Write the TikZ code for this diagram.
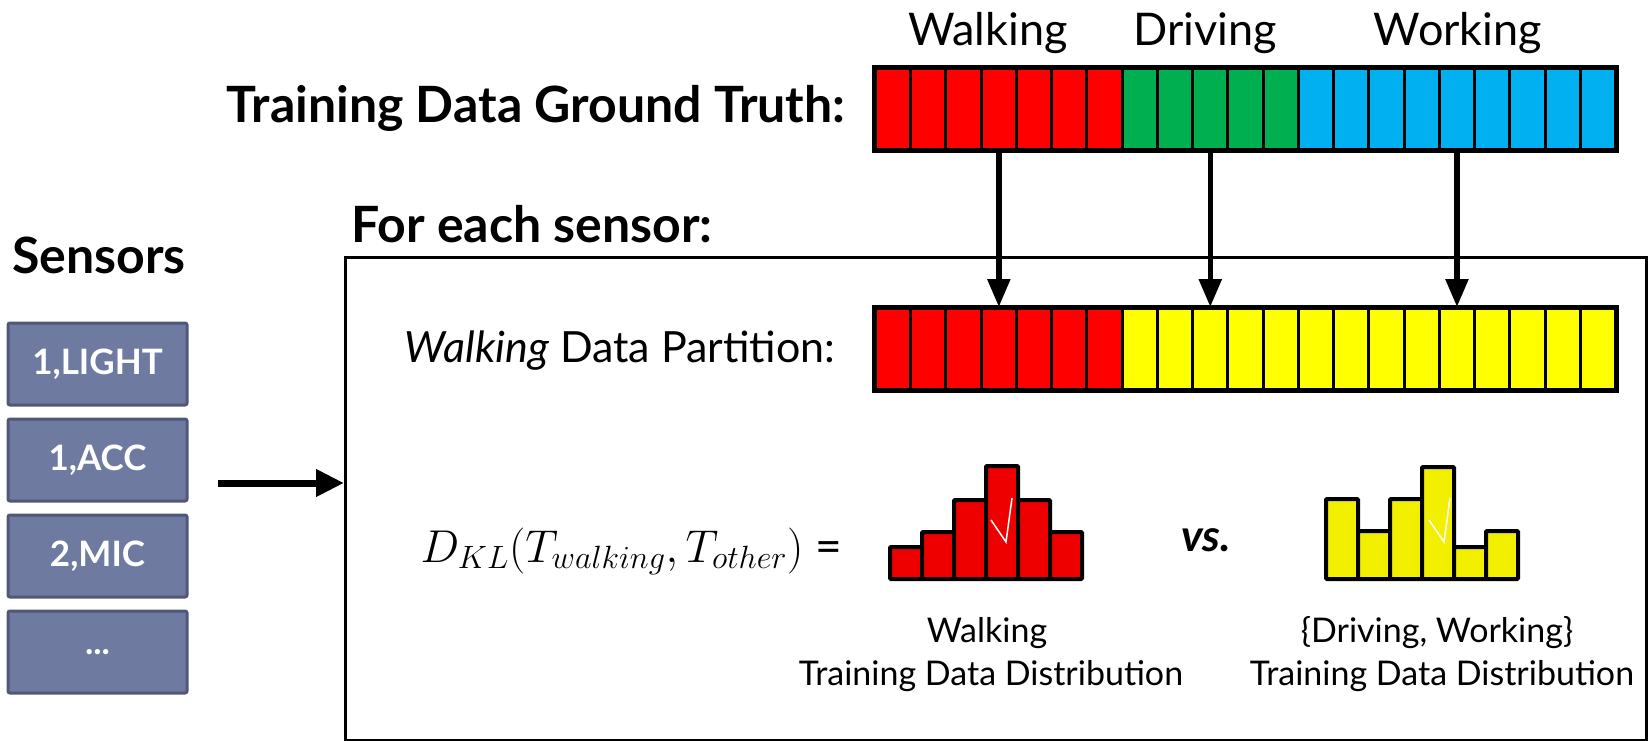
\RequirePackage{fix-cm}
\documentclass[tikz,border=0pt]{standalone}
\usepackage{fontspec}
\setmainfont{Lato}
\usetikzlibrary{arrows.meta,calc}
\definecolor{barred}{HTML}{FF0000}
\definecolor{bargreen}{HTML}{00B050}
\definecolor{barblue}{HTML}{00B0F0}
\definecolor{baryellow}{HTML}{FFFF00}
\definecolor{histred}{HTML}{EE0000}
\definecolor{histyellow}{HTML}{F2F000}
\definecolor{sensfill}{HTML}{6F7AA0}
\definecolor{sensdraw}{HTML}{4F5878}
\tikzset{
  cell/.style={draw=black,line width=3pt,minimum width=35.24pt,minimum height=81pt,inner sep=0pt,anchor=north west},
  sensorbox/.style={rectangle,rounded corners=2pt,fill=sensfill,draw=sensdraw,line width=3pt,
    minimum width=179pt,minimum height=82pt,text=white,font=\bfseries\fontsize{35}{38}\selectfont},
  flow/.style={line width=5.5pt,-{Triangle[length=28pt,width=22pt]}},
  histbar/.style={draw=black,line width=4pt,rounded corners=1pt},
  toplabel/.style={anchor=base,font=\fontsize{45}{50}\selectfont},
  headline/.style={font=\bfseries\fontsize{50}{55}\selectfont},
  caption/.style={anchor=base,font=\fontsize{34}{38}\selectfont},
  tick/.style={draw=white,line width=1.5pt}
}
\begin{document}
\begin{tikzpicture}[x=1pt,y=-1pt]
\useasboundingbox (0,0) rectangle (1651,740);

% activity labels above the ground-truth strip
\node[toplabel] (lwalk) at (988,45) {Walking};
\node[toplabel] (ldrive) at (1205,45) {Driving};
\node[toplabel] (lwork) at (1458,45) {Working};

\node[headline,anchor=east] (gt) at (849,108) {Training Data Ground Truth:};

% ground-truth strip: 7 walking, 5 driving, 9 working windows
\foreach \i in {1,...,21}{
  \pgfmathsetmacro{\xx}{874+(\i-1)*35.24}
  \ifnum\i<8 \def\cc{barred}\else\ifnum\i<13 \def\cc{bargreen}\else\def\cc{barblue}\fi\fi
  \node[cell,fill=\cc] (t\i) at (\xx,67) {};
}
\draw[line width=4pt] (t1.north west) rectangle (t21.south east);

% partition strip: walking vs. everything else
\foreach \i in {1,...,21}{
  \pgfmathsetmacro{\xx}{874+(\i-1)*35.24}
  \ifnum\i<8 \def\cc{barred}\else\def\cc{baryellow}\fi
  \node[cell,fill=\cc] (p\i) at (\xx,307) {};
}
\draw[line width=4pt] (p1.north west) rectangle (p21.south east);

\draw[flow] (t4.south) -- (p4.north);
\draw[flow] (t10.south) -- (p10.north);
\draw[flow] (t17.south) -- (p17.north);

% per-sensor frame
\node[headline,anchor=west] (each) at (348,224) {For each sensor:};
\node[draw=black,line width=3pt,minimum width=1301pt,minimum height=483pt,inner sep=0pt,anchor=north west] (frame) at (344,256) {};

% sensors
\node[headline] (sens) at (99,255) {Sensors};
\node[sensorbox] (s1) at (97.5,364) {1,LIGHT};
\node[sensorbox] (s2) at (97.5,460) {1,ACC};
\node[sensorbox] (s3) at (97.5,556) {2,MIC};
\node[sensorbox] (s4) at (97.5,652) {...};
\coordinate (sa) at (218,483);
\draw[flow,line width=7pt,-{Triangle[length=28pt,width=26pt]}] (sa) -- (sa -| frame.west);

\node[anchor=east,font=\fontsize{43}{48}\selectfont] (part) at (839,351) {\textit{Walking} Data Partition:};

% KL divergence between the two distributions
\node[anchor=base east,font=\fontsize{46}{50}\selectfont,inner sep=0pt] (kl) at (842,562)
  {$D_{KL}(T_{walking},T_{other})$ =};

% walking histogram
\foreach \x/\top in {890/547,922/532,954/500,986/466,1018/500,1050/532}{
  \draw[histbar,fill=histred] (\x,579) rectangle ++(32,\top-579);
}
\draw[tick] (991,520) -- (1006,542) -- (1012,498);

\node[font=\itshape\bfseries\fontsize{44}{48}\selectfont] (vs) at (1206,540) {vs.};

% other-activities histogram
\foreach \x/\top in {1326/499,1358/531,1390/499,1422/467,1454/547,1486/531}{
  \draw[histbar,fill=histyellow] (\x,579) rectangle ++(32,\top-579);
}
\draw[tick] (1429,520) -- (1444,542) -- (1450,498);

\node[caption] (c1a) at (987,642) {Walking};
\node[caption] (c1b) at (991,685) {Training Data Distribution};
\node[caption] (c2a) at (1437,642) {\{Driving, Working\}};
\node[caption] (c2b) at (1442,685) {Training Data Distribution};
\end{tikzpicture}
\end{document}
